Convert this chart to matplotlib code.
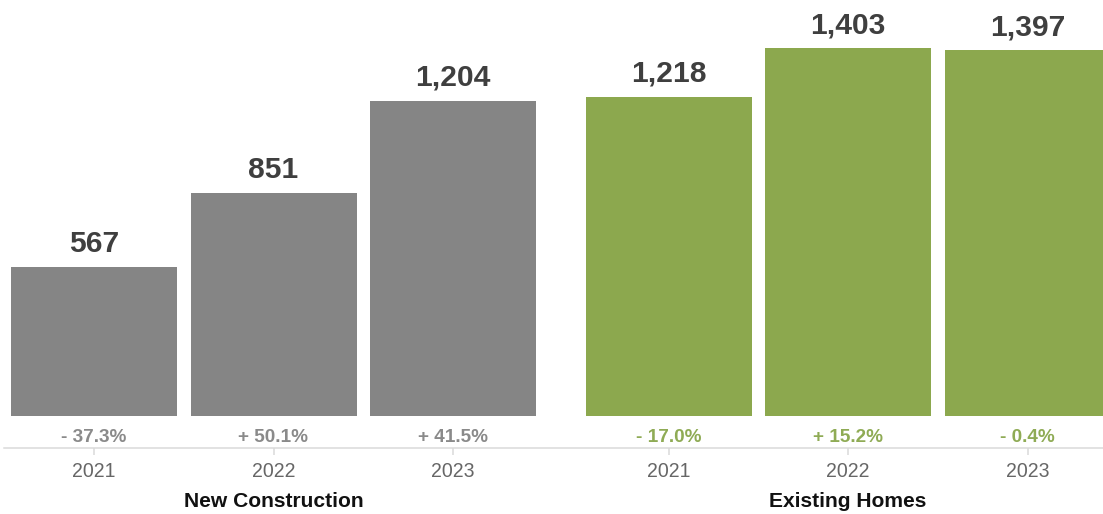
import matplotlib
matplotlib.use("Agg")
import matplotlib.pyplot as plt

plt.rcParams['font.family'] = ['Liberation Sans', 'DejaVu Sans']

# Home sales by year
years = ['2021', '2022', '2023']
new_construction = [567, 851, 1204]
existing_homes = [1218, 1403, 1397]
new_change = [-37.3, 50.1, 41.5]
existing_change = [-17.0, 15.2, -0.4]
groups = ['New Construction', 'Existing Homes']

GRAY = '#858585'
GREEN = '#8ca84e'
GREEN_TEXT = '#8fab55'

W, H = 1103, 514
fig = plt.figure(figsize=(W / 72, H / 72), dpi=72)
base = 416
ax = fig.add_axes([0, (H - base) / H, 1, base / H])

step = 179.5
width = 166
starts = [94, 668.5]
series = [new_construction, existing_homes]
changes = [new_change, existing_change]
colors = [GRAY, GREEN]
pct_colors = ['#8a8a8a', GREEN_TEXT]

tick_pos, tick_lab = [], []
for g in range(2):
    xs = [starts[g] + i * step for i in range(len(years))]
    ax.bar(xs, series[g], width=width, color=colors[g], linewidth=0)
    for x, v, c in zip(xs, series[g], changes[g]):
        ax.annotate(f'{v:,}', (x, v), xytext=(0, 15), textcoords='offset points',
                    ha='center', va='baseline', fontsize=30, fontweight='bold',
                    color='#3f3f3f')
        sign = '+' if c >= 0 else '-'
        ax.annotate(f'{sign} {abs(c):.1f}%', (x, 0), xytext=(0, -26.5),
                    textcoords='offset points', ha='center', va='baseline',
                    fontsize=19, fontweight='bold', color=pct_colors[g])
    tick_pos += xs
    tick_lab += years
    fig.text(xs[1] / W, 7.3 / H, groups[g], ha='center', va='baseline',
             fontsize=21, fontweight='bold', color='#111111')

ax.set_xlim(0, W)
ax.set_ylim(0, 1588)
ax.set_yticks([])
for side in ['top', 'left', 'right']:
    ax.spines[side].set_visible(False)
ax.spines['bottom'].set_position(('outward', 32))
ax.spines['bottom'].set_color('#d9d9d9')
ax.spines['bottom'].set_linewidth(1.5)
ax.spines['bottom'].set_bounds(4, W)
ax.set_xticks(tick_pos)
ax.set_xticklabels(tick_lab)
ax.tick_params(axis='x', length=7, width=1.5, color='#d9d9d9', pad=7,
               labelsize=19.5, labelcolor='#666666')
ax.patch.set_alpha(0)

fig.savefig('out.png', dpi=72)
